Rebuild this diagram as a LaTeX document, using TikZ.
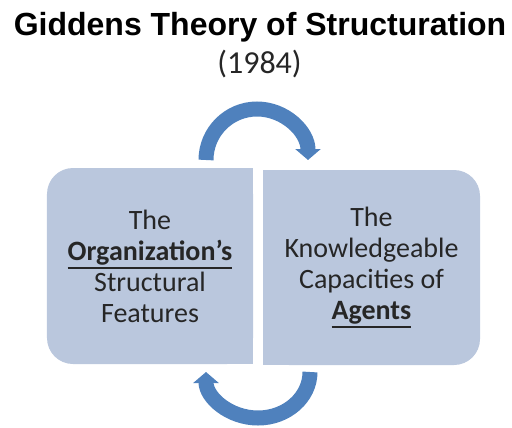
\documentclass[tikz,border=0pt]{standalone}
\usepackage{fontspec}
\setmainfont{Carlito}
\newfontfamily\headfont{Liberation Sans}
\usetikzlibrary{arrows.meta,backgrounds}
\definecolor{panelblue}{HTML}{BAC7DD}
\definecolor{arrowblue}{HTML}{4F81BD}
\definecolor{inkgray}{HTML}{262626}
\newcommand{\barunder}[1]{\setbox0\hbox{#1}\rlap{\rule[-8.5bp]{\wd0}{2bp}}\box0}

\begin{document}
\begin{tikzpicture}[
x=1bp,y=1bp,
heading/.style={
	font=\headfont\bfseries\fontsize{32bp}{36bp}\selectfont,
	anchor=base,
	inner sep=0pt
},
panel/.style={
	fill=panelblue,
	rounded corners=26bp,
	align=center,
	text=inkgray,
	inner sep=0pt,
	font=\fontsize{28bp}{31bp}\selectfont
},
cyclearrow/.style={
	-{Triangle[width=25bp,length=11bp]},
	line width=15bp,
	draw=arrowblue
}
]
\useasboundingbox (0,0) rectangle (512,427);

\node[heading] (title) at (260,391) {Giddens Theory of Structuration};
\node[heading,font=\fontsize{32bp}{36bp}\selectfont,text=inkgray] (year) at (259.5,354) {(1984)};

\node[panel,minimum width=206bp,minimum height=196bp] (org) at (150,161)
	{The\\ \barunder{\textbf{Organization’s}}\\ Structural\\ Features};
\node[panel,minimum width=217bp,minimum height=195bp] (agents) at (371.5,159.5)
	{The\\ Knowledgeable\\ Capacities of\\ \barunder{\textbf{Agents}}};

\begin{scope}[on background layer]
\fill[panelblue] (org.north) rectangle (org.south east);
\fill[panelblue] (agents.north west) rectangle (agents.south);
\end{scope}

\coordinate (topfoot) at (206,267);
\coordinate (lowfoot) at (310,55);

\draw[cyclearrow] (topfoot) arc[start angle=180,end angle=0,radius=51];
\draw[cyclearrow] (lowfoot) arc[start angle=0,end angle=-180,x radius=52,y radius=46];

\end{tikzpicture}
\end{document}
